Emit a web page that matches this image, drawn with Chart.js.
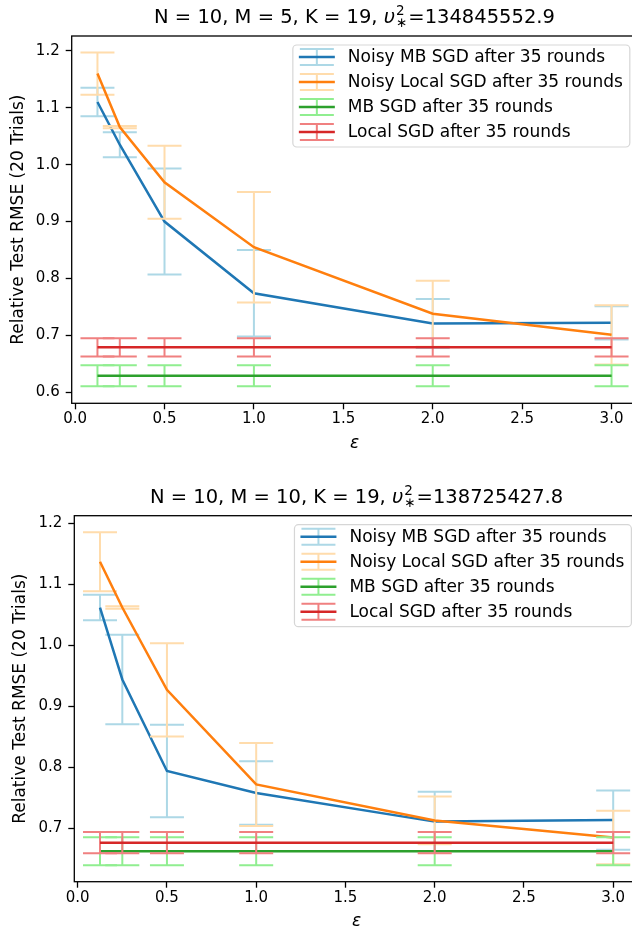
<!DOCTYPE html>
<html>
<head>
<meta charset="utf-8">
<script src="https://cdn.jsdelivr.net/npm/chart.js@4.4.1/dist/chart.umd.min.js"></script>
<style>
html, body { margin: 0; padding: 0; background: #fff; overflow: hidden; width: 632px; height: 932px; }
.pannello { position: absolute; left: 0; width: 640px; height: 466px; }
</style>
</head>
<body>
<div class="pannello" style="top:0"><canvas id="grafico1" width="640" height="466"></canvas></div>
<div class="pannello" style="top:466px"><canvas id="grafico2" width="640" height="466"></canvas></div>
<script>
// Valori di epsilon (asse x)
const epsilon = [0.125, 0.25, 0.5, 1.0, 2.0, 3.0];
const tickX = [0.0, 0.5, 1.0, 1.5, 2.0, 2.5, 3.0];
const tickY1 = [0.6, 0.7, 0.8, 0.9, 1.0, 1.1, 1.2];
const tickY2 = [0.7, 0.8, 0.9, 1.0, 1.1, 1.2];

const etichette = [
    'Noisy MB SGD after 35 rounds',
    'Noisy Local SGD after 35 rounds',
    'MB SGD after 35 rounds',
    'Local SGD after 35 rounds'
];

// Grafico 1: N = 10, M = 5
const noisyMB1 = [1.110, 1.035, 0.900, 0.774, 0.721, 0.722];
const noisyMB1Err = [0.025, 0.022, 0.093, 0.076, 0.043, 0.029];
const noisyLocal1 = [1.160, 1.066, 0.969, 0.855, 0.738, 0.701];
const noisyLocal1Err = [0.037, 0.002, 0.064, 0.097, 0.058, 0.052];
const mb1 = [0.629, 0.629, 0.629, 0.629, 0.629, 0.629];
const mb1Err = [0.0185, 0.0185, 0.0185, 0.0185, 0.0185, 0.0185];
const local1 = [0.679, 0.679, 0.679, 0.679, 0.679, 0.679];
const local1Err = [0.016, 0.016, 0.016, 0.016, 0.016, 0.016];

// Grafico 2: N = 10, M = 10
const noisyMB2 = [1.062, 0.944, 0.794, 0.758, 0.711, 0.7135];
const noisyMB2Err = [0.021, 0.0735, 0.076, 0.052, 0.049, 0.0485];
const noisyLocal2 = [1.137, 1.062, 0.927, 0.772, 0.713, 0.685];
const noisyLocal2Err = [0.0485, 0.002, 0.0765, 0.068, 0.039, 0.044];
const mb2 = [0.6625, 0.6625, 0.6625, 0.6625, 0.6625, 0.6625];
const mb2Err = [0.023, 0.023, 0.023, 0.023, 0.023, 0.023];
const local2 = [0.6765, 0.6765, 0.6765, 0.6765, 0.6765, 0.6765];
const local2Err = [0.0175, 0.0175, 0.0175, 0.0175, 0.0175, 0.0175];

const titolo1 = { prima: 'N = 10, M = 5, K = 19, ', dopo: '=134845552.9' };
const titolo2 = { prima: 'N = 10, M = 10, K = 19, ', dopo: '=138725427.8' };

// Colori stile matplotlib
const coloriLinea = ['#1f77b4', '#ff7f0e', '#2ca02c', '#d62728'];
const coloriErrore = ['#add8e6', '#ffdcac', '#90ee90', '#f08080'];

Chart.defaults.font.family = 'DejaVu Sans';
Chart.defaults.font.size = 15;
Chart.defaults.color = '#000';

function creaDataset(serie, errori, i) {
    return {
        label: etichette[i],
        data: epsilon.map((e, k) => ({ x: e, y: serie[k] })),
        errori: errori,
        coloreErrore: coloriErrore[i],
        borderColor: coloriLinea[i],
        backgroundColor: coloriLinea[i],
        borderWidth: 2.5,
        pointRadius: 0,
        tension: 0,
        fill: false,
        order: 3 - i
    };
}

// Barre d'errore, bordi, legenda e titolo
const pluginMatplotlib = {
    id: 'matplotlib',
    beforeDatasetDraw(chart, args) {
        const ds = chart.data.datasets[args.index];
        const ctx = chart.ctx;
        const x = chart.scales.x, y = chart.scales.y;
        ctx.save();
        ctx.strokeStyle = ds.coloreErrore;
        ctx.lineWidth = 2;
        ds.data.forEach((p, k) => {
            const px = x.getPixelForValue(p.x);
            const alto = y.getPixelForValue(p.y + ds.errori[k]);
            const basso = y.getPixelForValue(p.y - ds.errori[k]);
            ctx.beginPath();
            ctx.moveTo(px, alto); ctx.lineTo(px, basso);
            ctx.moveTo(px - 17, alto); ctx.lineTo(px + 17, alto);
            ctx.moveTo(px - 17, basso); ctx.lineTo(px + 17, basso);
            ctx.stroke();
        });
        ctx.restore();
    },
    afterDraw(chart, args, opts) {
        const ctx = chart.ctx;
        const a = chart.chartArea;
        ctx.save();

        // bordi del grafico
        ctx.strokeStyle = '#000';
        ctx.lineWidth = 1.3;
        ctx.strokeRect(a.left, a.top, a.right - a.left, a.bottom - a.top);

        // legenda
        ctx.font = '17px "DejaVu Sans"';
        let larghezzaMax = 0;
        chart.data.datasets.forEach(ds => {
            larghezzaMax = Math.max(larghezzaMax, ctx.measureText(ds.label).width);
        });
        const larghezza = 55 + larghezzaMax + 7;
        const sx = a.right - 7.5 - larghezza;
        const sy = a.top + 9;
        ctx.beginPath();
        ctx.roundRect(sx, sy, larghezza, 102, 4);
        ctx.fillStyle = 'rgba(255,255,255,0.8)';
        ctx.fill();
        ctx.strokeStyle = 'rgba(204,204,204,0.8)';
        ctx.lineWidth = 1.2;
        ctx.stroke();
        chart.data.datasets.forEach((ds, i) => {
            const ry = sy + 12 + 25 * i;
            ctx.strokeStyle = ds.coloreErrore;
            ctx.lineWidth = 2;
            ctx.beginPath();
            ctx.moveTo(sx + 24, ry - 8); ctx.lineTo(sx + 24, ry + 8);
            ctx.moveTo(sx + 7, ry - 8); ctx.lineTo(sx + 41, ry - 8);
            ctx.moveTo(sx + 7, ry + 8); ctx.lineTo(sx + 41, ry + 8);
            ctx.stroke();
            ctx.strokeStyle = ds.borderColor;
            ctx.lineWidth = 2.5;
            ctx.beginPath();
            ctx.moveTo(sx + 6, ry); ctx.lineTo(sx + 42, ry);
            ctx.stroke();
            ctx.fillStyle = '#000';
            ctx.textAlign = 'left';
            ctx.textBaseline = 'middle';
            ctx.fillText(ds.label, sx + 55, ry + 1);
        });

        // titolo con upsilon^2_*
        const t = opts.titolo;
        const fontBase = '19.5px "DejaVu Sans"';
        const fontCorsivo = 'italic 19.5px "DejaVu Sans"';
        const fontPiccolo = '13.5px "DejaVu Sans"';
        ctx.font = fontBase;
        const w1 = ctx.measureText(t.prima).width;
        const w3 = ctx.measureText(t.dopo).width;
        ctx.font = fontCorsivo;
        const wu = ctx.measureText('υ').width;
        ctx.font = fontPiccolo;
        const ws = Math.max(ctx.measureText('2').width, ctx.measureText('∗').width) + 2;
        const totale = w1 + wu + ws + w3;
        let cx = (a.left + a.right) / 2 - totale / 2;
        const base = a.top - opts.distanzaTitolo;
        ctx.fillStyle = '#000';
        ctx.textAlign = 'left';
        ctx.textBaseline = 'alphabetic';
        ctx.font = fontBase;
        ctx.fillText(t.prima, cx, base);
        cx += w1;
        ctx.font = fontCorsivo;
        ctx.fillText('υ', cx, base);
        cx += wu;
        ctx.font = fontPiccolo;
        ctx.fillText('2', cx + 1, base - 8);
        ctx.fillText('∗', cx + 1, base + 4);
        cx += ws;
        ctx.font = fontBase;
        ctx.fillText(t.dopo, cx, base);

        ctx.restore();
    }
};

function creaOpzioni(cfg) {
    return {
        responsive: false,
        animation: false,
        devicePixelRatio: 1,
        layout: { padding: { top: cfg.alto, right: cfg.destra, left: 0, bottom: 0 } },
        plugins: {
            legend: { display: false },
            tooltip: { enabled: false },
            matplotlib: { titolo: cfg.titolo, distanzaTitolo: cfg.distanzaTitolo }
        },
        scales: {
            x: {
                type: 'linear',
                min: -0.019,
                max: 3.144,
                afterFit: s => { s.height = cfg.altezzaX; },
                afterBuildTicks: s => { s.ticks = tickX.map(v => ({ value: v })); },
                ticks: { callback: v => v.toFixed(1), padding: 1, maxRotation: 0, color: '#000', font: { size: 15 } },
                grid: { drawOnChartArea: false, tickLength: 6, tickWidth: 1.3, tickColor: '#000' },
                border: { display: false },
                title: {
                    display: true, text: 'ε', color: '#000',
                    font: { size: 17, style: 'italic' },
                    padding: { top: 0, bottom: cfg.padEps }
                }
            },
            y: {
                type: 'linear',
                min: cfg.yMin,
                max: cfg.yMax,
                afterFit: s => { s.width = cfg.larghezzaY; },
                afterBuildTicks: s => { s.ticks = cfg.tickY.map(v => ({ value: v })); },
                ticks: { callback: v => v.toFixed(1), padding: 6, color: '#000', font: { size: 15 } },
                grid: { drawOnChartArea: false, tickLength: 6, tickWidth: 1.3, tickColor: '#000' },
                border: { display: false },
                title: {
                    display: true, text: 'Relative Test RMSE (20 Trials)', color: '#000',
                    font: { size: 17 },
                    padding: { top: cfg.padY, bottom: 0 }
                }
            }
        }
    };
}

let grafico1 = new Chart(document.getElementById('grafico1').getContext('2d'), {
    type: 'line',
    data: {
        datasets: [
            creaDataset(noisyMB1, noisyMB1Err, 0),
            creaDataset(noisyLocal1, noisyLocal1Err, 1),
            creaDataset(mb1, mb1Err, 2),
            creaDataset(local1, local1Err, 3)
        ]
    },
    options: creaOpzioni({
        titolo: titolo1, distanzaTitolo: 13, alto: 36, destra: 2.7, altezzaX: 62.7, larghezzaY: 71.7,
        yMin: 0.5807, yMax: 1.226, tickY: tickY1, padEps: 12, padY: 8
    }),
    plugins: [pluginMatplotlib]
});

let grafico2 = new Chart(document.getElementById('grafico2').getContext('2d'), {
    type: 'line',
    data: {
        datasets: [
            creaDataset(noisyMB2, noisyMB2Err, 0),
            creaDataset(noisyLocal2, noisyLocal2Err, 1),
            creaDataset(mb2, mb2Err, 2),
            creaDataset(local2, local2Err, 3)
        ]
    },
    options: creaOpzioni({
        titolo: titolo2, distanzaTitolo: 12.5, alto: 49.7, destra: 1.1, altezzaX: 50.3, larghezzaY: 74.3,
        yMin: 0.6125, yMax: 1.2125, tickY: tickY2, padEps: 0, padY: 10
    }),
    plugins: [pluginMatplotlib]
});
</script>
</body>
</html>
